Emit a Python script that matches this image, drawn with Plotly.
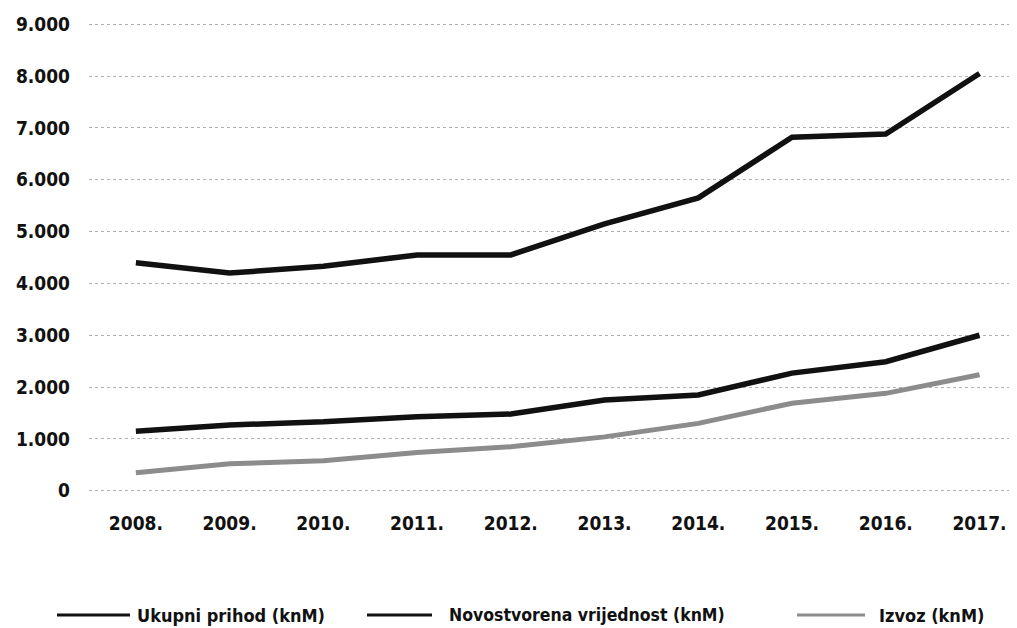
import plotly.graph_objects as go

years = ["2008.", "2009.", "2010.", "2011.", "2012.", "2013.", "2014.", "2015.", "2016.", "2017."]
ukupni_prihod = [4400, 4200, 4330, 4550, 4550, 5150, 5650, 6820, 6880, 8050]
novostvorena = [1150, 1270, 1330, 1430, 1480, 1750, 1850, 2270, 2490, 3000]
izvoz = [350, 520, 580, 740, 850, 1040, 1300, 1690, 1880, 2240]
y_ticks = [0, 1000, 2000, 3000, 4000, 5000, 6000, 7000, 8000, 9000]
y_tick_labels = ["0", "1.000", "2.000", "3.000", "4.000", "5.000", "6.000", "7.000", "8.000", "9.000"]
series_names = ["Ukupni prihod (knM)", "Novostvorena vrijednost (knM)", "Izvoz (knM)"]

FONT = "DejaVu Sans Condensed, Liberation Sans Narrow, sans-serif"
colors = ["#111111", "#111111", "#8c8c8c"]
widths = [5.5, 5.5, 5]

# page body has an 8px margin; lay out in screen pixels then offset
OFF = 8
SCREEN_W, SCREEN_H = 1017, 628
W, H = SCREEN_W - OFF, SCREEN_H - OFF
PLOT_LEFT, PLOT_RIGHT, PLOT_TOP, PLOT_BOTTOM = 89, 1017, 19, 496  # screen px
ML, MR, MT, MB = PLOT_LEFT - OFF, SCREEN_W - PLOT_RIGHT, PLOT_TOP - OFF, SCREEN_H - PLOT_BOTTOM
PW = PLOT_RIGHT - PLOT_LEFT
PH = PLOT_BOTTOM - PLOT_TOP

fig = go.Figure()
for name, vals, c, w in zip(series_names, [ukupni_prihod, novostvorena, izvoz], colors, widths):
    fig.add_trace(go.Scatter(x=years, y=vals, mode="lines", name=name,
                             line=dict(color=c, width=w), showlegend=False))

# custom legend (line sample + label), positions in screen pixels
legend_items = [(57, 130, 135), (367, 432, 447), (797, 865, 877)]
legend_sizes = [18, 17.5, 18]
legend_y_px = 615
ly = (PLOT_BOTTOM - legend_y_px) / PH
shapes = []
annotations = []
for (x0, x1, xt), name, c, fs in zip(legend_items, series_names, colors, legend_sizes):
    shapes.append(dict(type="line", xref="paper", yref="paper",
                       x0=(x0 - PLOT_LEFT) / PW, x1=(x1 - PLOT_LEFT) / PW, y0=ly, y1=ly,
                       line=dict(color=c, width=3)))
    annotations.append(dict(text="<b>" + name + "</b>", xref="paper", yref="paper",
                            x=(xt - PLOT_LEFT) / PW, y=ly, xanchor="left", yanchor="middle",
                            showarrow=False, font=dict(family=FONT, size=fs, color="#111")))

fig.update_layout(
    width=W, height=H,
    margin=dict(l=ML, r=MR, t=MT, b=MB, autoexpand=False),
    paper_bgcolor="white", plot_bgcolor="white",
    font=dict(family=FONT, color="#111"),
    shapes=shapes, annotations=annotations,
    showlegend=False,
)
fig.update_xaxes(type="category", range=[-0.5, 9.4], showgrid=False, zeroline=False,
                 showline=False, ticks="", ticklabelstandoff=14,
                 tickfont=dict(family=FONT, size=19, color="#111", weight="bold"))
fig.update_yaxes(range=[-100, 9100], tickvals=y_ticks, ticktext=y_tick_labels,
                 showgrid=True, gridcolor="#b0b0b0", gridwidth=1, griddash="dot",
                 zeroline=False, showline=False, ticks="", ticklabelstandoff=18,
                 tickfont=dict(family=FONT, size=19, color="#111", weight="bold"))

fig.write_html("out.html")
